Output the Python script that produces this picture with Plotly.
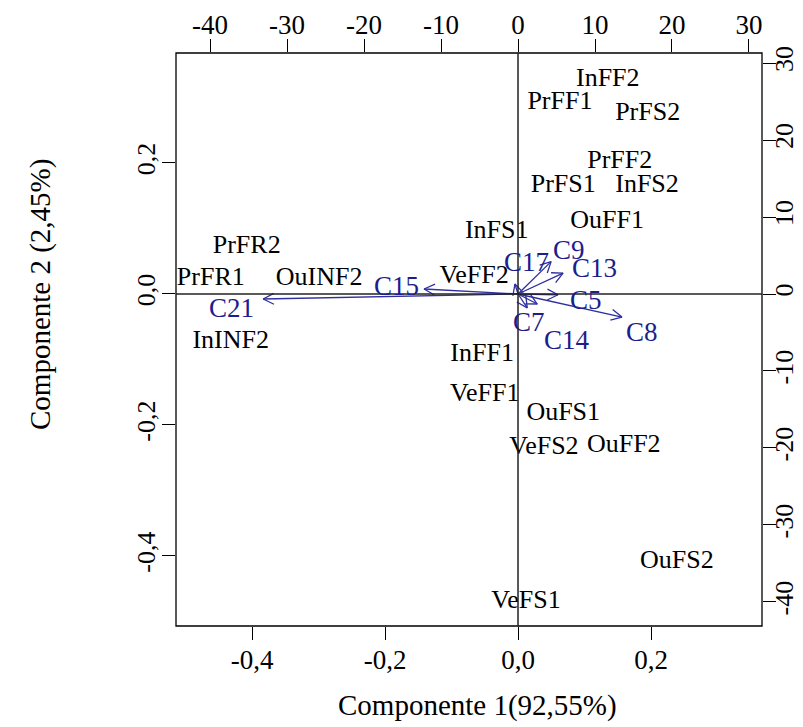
import math
import plotly.graph_objects as go

# Observation scores (Componente 1, Componente 2)
obs_names = ["InFF2", "PrFF1", "PrFS2", "PrFF2", "PrFS1", "InFS2", "OuFF1", "InFS1",
             "VeFF2", "InFF1", "VeFF1", "OuFS1", "VeFS2", "OuFF2", "OuFS2", "VeFS1",
             "PrFR2", "PrFR1", "OuINF2", "InINF2"]
comp1 = [0.135, 0.063, 0.195, 0.153, 0.068, 0.194, 0.134, -0.032,
         -0.066, -0.054, -0.050, 0.068, 0.039, 0.159, 0.239, 0.012,
         -0.408, -0.462, -0.299, -0.432]
comp2 = [0.327, 0.292, 0.276, 0.202, 0.165, 0.166, 0.110, 0.095,
         0.027, -0.092, -0.154, -0.182, -0.235, -0.231, -0.409, -0.470,
         0.072, 0.024, 0.024, -0.072]

# Variable loadings (top / right scale)
var_names = ["C21", "C15", "C9", "C13", "C17", "C5", "C8", "C7", "C14"]
load1 = [-33.1, -12.2, 4.3, 5.85, -0.4, 5.2, 13.5, 1.2, 2.5]
load2 = [-0.65, 0.65, 4.2, 2.7, 1.3, -0.1, -3.0, -1.8, -1.3]

# Tick values and labels
x_ticks = [-0.4, -0.2, 0.0, 0.2]
x_ticktext = ["-0,4", "-0,2", "0,0", "0,2"]
y_ticks = [-0.4, -0.2, 0.0, 0.2]
y_ticktext = ["-0,4", "-0,2", "0,0", "0,2"]
sec_ticks = [-40, -30, -20, -10, 0, 10, 20, 30]
sec_ticktext = ["-40", "-30", "-20", "-10", "0", "10", "20", "30"]

# Axis ranges
x_range = [-0.5143, 0.3669]
y_range = [-0.5069, 0.3679]
x2_range = [-44.42, 31.69]
y2_range = [-43.12, 31.30]

# Label nudges for variable names (pixels, right / up)
label_shift = {
    "C21": (-32, -9), "C15": (-28, 3), "C9": (18, 12), "C13": (31, 5),
    "C17": (12, 22), "C5": (28, -5), "C8": (20, -15), "C7": (2, -14),
    "C14": (30, -36),
}

W, H = 803, 727
ML, MR, MT, MB = 176, 41, 53, 101
PW, PH = W - ML - MR, H - MT - MB
FONT = "Liberation Serif"
NAVY_TXT = "#1d1d8c"
NAVY_LN = "#2f2fa0"

sx = PW / (x2_range[1] - x2_range[0])
sy = PH / (y2_range[1] - y2_range[0])

# Arrow shafts and open heads, built in pixel space then mapped back
ax_x, ax_y = [], []
head_len, head_ang = 12.0, math.radians(27)
for u, w in zip(load1, load2):
    ax_x += [0, u, None]
    ax_y += [0, w, None]
    th = math.atan2(w * sy, u * sx)
    pts = []
    for s in (+1, -1):
        a = th + math.pi + s * head_ang
        pts.append((u + head_len * math.cos(a) / sx, w + head_len * math.sin(a) / sy))
    ax_x += [pts[0][0], u, pts[1][0], None]
    ax_y += [pts[0][1], w, pts[1][1], None]

fig = go.Figure()
fig.add_trace(go.Scatter(
    x=comp1, y=comp2, mode="text", text=obs_names, textposition="middle center",
    textfont=dict(family=FONT, size=26, color="black"), xaxis="x", yaxis="y",
    hoverinfo="text", showlegend=False))
fig.add_trace(go.Scatter(
    x=ax_x, y=ax_y, mode="lines", line=dict(color=NAVY_LN, width=1.3),
    xaxis="x2", yaxis="y2", hoverinfo="skip", showlegend=False))

annotations = []
for n, u, w in zip(var_names, load1, load2):
    dx, dy = label_shift[n]
    annotations.append(dict(x=u, y=w, xref="x2", yref="y2", text=n, showarrow=False,
                            xshift=dx, yshift=dy, xanchor="center", yanchor="middle",
                            font=dict(family=FONT, size=27, color=NAVY_TXT)))
annotations.append(dict(x=(477 - ML) / PW, y=(MT + PH - 705) / PH,
                        xref="paper", yref="paper", xanchor="center", yanchor="middle",
                        text="Componente 1(92,55%)", showarrow=False,
                        font=dict(family=FONT, size=29, color="black")))
annotations.append(dict(x=(40 - ML) / PW, y=(MT + PH - 295) / PH, xref="paper", yref="paper",
                        xanchor="center", yanchor="middle",
                        text="Componente 2 (2,45%)", textangle=-90, showarrow=False,
                        font=dict(family=FONT, size=29, color="black")))

tick_common = dict(ticks="outside", ticklen=13, tickwidth=1.2, tickcolor="black",
                   showgrid=False, zeroline=False, showline=False, fixedrange=True,
                   automargin=False)

fig.update_layout(
    width=W, height=H, margin=dict(l=ML, r=MR, t=MT, b=MB),
    paper_bgcolor="white", plot_bgcolor="white",
    xaxis=dict(range=x_range, tickvals=x_ticks, ticktext=x_ticktext, ticklabelstandoff=-3,
               tickfont=dict(family=FONT, size=27, color="black"), **tick_common),
    yaxis=dict(range=y_range, tickvals=y_ticks, ticktext=y_ticktext, tickangle=-90,
               ticklabelstandoff=-3,
               tickfont=dict(family=FONT, size=26, color="black"), **tick_common),
    xaxis2=dict(range=x2_range, tickvals=sec_ticks, ticktext=sec_ticktext, overlaying="x",
                side="top", ticklabelstandoff=-6,
                tickfont=dict(family=FONT, size=27, color="black"), **tick_common),
    yaxis2=dict(range=y2_range, tickvals=sec_ticks, ticktext=sec_ticktext, overlaying="y",
                side="right", tickangle=-90, ticklabelstandoff=-14,
                tickfont=dict(family=FONT, size=26, color="black"), **tick_common),
    annotations=annotations,
    shapes=[
        dict(type="rect", xref="paper", yref="paper", x0=0, x1=1, y0=0, y1=1,
             line=dict(color="black", width=1.3)),
        dict(type="line", xref="x", yref="paper", x0=0, x1=0, y0=0, y1=1,
             line=dict(color="#222222", width=1.5)),
        dict(type="line", xref="paper", yref="y", x0=0, x1=1, y0=0, y1=0,
             line=dict(color="#222222", width=1.5)),
    ],
)

fig.write_html("out.html")
